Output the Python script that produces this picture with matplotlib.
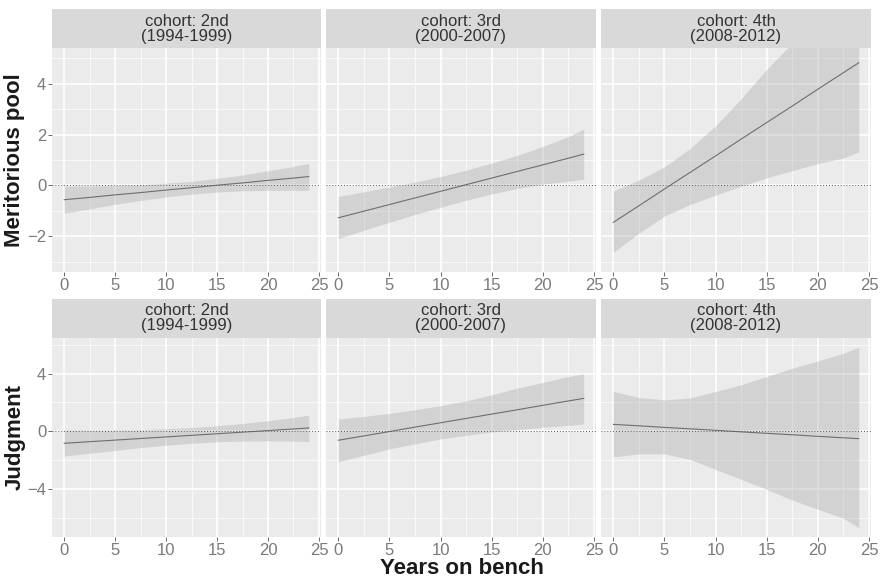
import numpy as np
import matplotlib.pyplot as plt

plt.rcParams['font.family'] = ['Liberation Sans', 'DejaVu Sans']

# data (fitted line and 95% band per cohort)
years = [0, 2.5, 5, 7.5, 10, 12.5, 15, 17.5, 20, 22.5, 24]
cohorts = ['cohort: 2nd\n(1994-1999)', 'cohort: 3rd\n(2000-2007)', 'cohort: 4th\n(2008-2012)']
outcomes = ['Meritorious pool', 'Judgment']

merit_fit = [
    [-0.56, -0.47, -0.37, -0.28, -0.18, -0.09, 0.01, 0.10, 0.20, 0.29, 0.35],
    [-1.27, -1.01, -0.75, -0.49, -0.23, 0.03, 0.29, 0.55, 0.81, 1.07, 1.23],
    [-1.45, -0.80, -0.14, 0.51, 1.16, 1.82, 2.47, 3.12, 3.78, 4.43, 4.82],
]
merit_lower = [
    [-1.09, -0.92, -0.74, -0.59, -0.45, -0.34, -0.26, -0.21, -0.19, -0.19, -0.19],
    [-2.08, -1.76, -1.45, -1.14, -0.86, -0.58, -0.33, -0.12, 0.05, 0.17, 0.24],
    [-2.63, -1.88, -1.20, -0.75, -0.38, -0.03, 0.30, 0.58, 0.86, 1.08, 1.32],
]
merit_upper = [
    [-0.03, -0.02, 0.00, 0.03, 0.09, 0.16, 0.28, 0.41, 0.58, 0.75, 0.87],
    [-0.43, -0.25, -0.06, 0.13, 0.35, 0.60, 0.88, 1.18, 1.53, 1.92, 2.22],
    [-0.22, 0.21, 0.73, 1.45, 2.34, 3.41, 4.56, 5.60, 6.70, 7.70, 8.30],
]

judg_fit = [
    [-0.83, -0.72, -0.61, -0.50, -0.39, -0.28, -0.17, -0.06, 0.05, 0.16, 0.23],
    [-0.62, -0.32, -0.02, 0.29, 0.59, 0.89, 1.19, 1.49, 1.80, 2.10, 2.28],
    [0.48, 0.38, 0.27, 0.17, 0.07, -0.04, -0.14, -0.24, -0.35, -0.45, -0.51],
]
judg_lower = [
    [-1.72, -1.52, -1.33, -1.13, -0.96, -0.83, -0.73, -0.68, -0.66, -0.68, -0.71],
    [-2.11, -1.66, -1.22, -0.87, -0.53, -0.28, -0.05, 0.11, 0.28, 0.41, 0.51],
    [-1.77, -1.56, -1.56, -1.95, -2.64, -3.33, -4.02, -4.76, -5.40, -6.02, -6.67],
]
judg_upper = [
    [0.12, 0.10, 0.10, 0.12, 0.17, 0.26, 0.38, 0.54, 0.73, 0.95, 1.12],
    [0.85, 1.03, 1.24, 1.49, 1.77, 2.11, 2.53, 2.99, 3.38, 3.79, 3.98],
    [2.76, 2.34, 2.18, 2.30, 2.76, 3.22, 3.79, 4.37, 4.87, 5.40, 5.82],
]

rows = [
    dict(fit=merit_fit, lo=merit_lower, hi=merit_upper, ylim=(-3.4, 5.4),
         major=[-2, 0, 2, 4], minor=[-3, -1, 1, 3, 5]),
    dict(fit=judg_fit, lo=judg_lower, hi=judg_upper, ylim=(-7.32, 6.46),
         major=[-4, 0, 4], minor=[-6, -2, 2, 6]),
]

W, H = 881, 578
col_x = [(52, 321), (326, 596), (601, 871)]
row_y = [(48, 272), (338, 537)]
strip_y = [(9, 48), (299, 338)]


def rect(x0, x1, y0, y1):
    return [x0 / W, 1 - y1 / H, (x1 - x0) / W, (y1 - y0) / H]


fig = plt.figure(figsize=(W / 100, H / 100), dpi=100)

for r, spec in enumerate(rows):
    for c in range(3):
        x0, x1 = col_x[c]
        ax = fig.add_axes(rect(x0, x1, *row_y[r]))
        ax.set_facecolor('#EBEBEB')
        for s in ax.spines.values():
            s.set_visible(False)

        ax.set_xlim(-1.2, 25.2)
        ax.set_ylim(*spec['ylim'])
        ax.set_xticks([0, 5, 10, 15, 20, 25])
        ax.set_xticks([2.5, 7.5, 12.5, 17.5, 22.5], minor=True)
        ax.set_yticks(spec['major'])
        ax.set_yticks(spec['minor'], minor=True)
        ax.grid(which='major', color='white', lw=1.1)
        ax.grid(which='minor', color='white', lw=0.5)
        ax.set_axisbelow(True)
        ax.tick_params(which='major', length=3, width=0.6, color='#555555',
                       labelsize=12, labelcolor='#7a7a7a', pad=1.2)
        ax.tick_params(which='minor', length=0)
        if c > 0:
            ax.tick_params(axis='y', labelleft=False, length=0)

        ax.fill_between(years, spec['lo'][c], spec['hi'][c],
                        color='#999999', alpha=0.3, lw=0)
        ax.plot(years, spec['fit'][c], color='#6e6e6e', lw=0.8)
        ax.axhline(0, color='#555555', lw=0.7, ls=(0, (1, 2)))

        sax = fig.add_axes(rect(x0, x1, *strip_y[r]))
        sax.set_facecolor('#D9D9D9')
        sax.set_xticks([])
        sax.set_yticks([])
        for s in sax.spines.values():
            s.set_visible(False)
        sax.text(0.5, 0.5, cohorts[c], ha='center', va='center',
                 fontsize=12, color='#333333', linespacing=1.0,
                 transform=sax.transAxes)

    yc = sum(row_y[r]) / 2
    fig.text(15 / W, 1 - yc / H, outcomes[r], rotation=90, ha='center',
             va='center', fontsize=16, fontweight='bold', color='#1a1a1a')

fig.text(462 / W, 1 - 569 / H, 'Years on bench', ha='center', va='center',
         fontsize=16, fontweight='bold', color='#1a1a1a')

fig.savefig('out.png', dpi=100)
